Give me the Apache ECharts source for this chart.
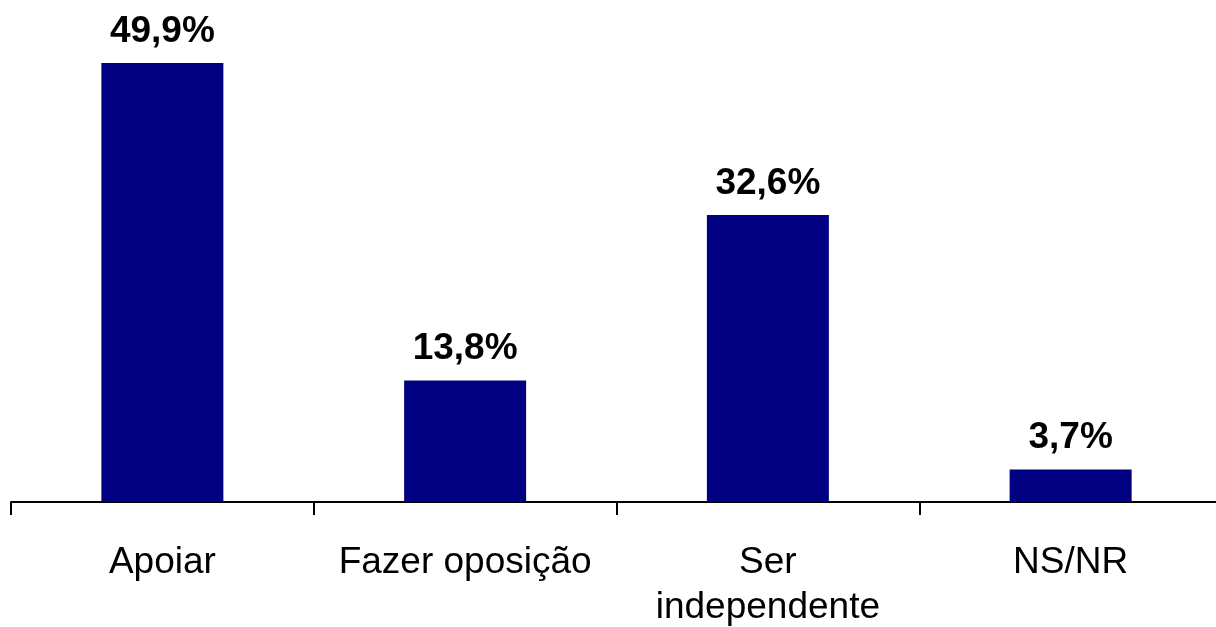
<!DOCTYPE html>
<html>
<head>
<meta charset="utf-8">
<script src="https://cdn.jsdelivr.net/npm/echarts@6/dist/echarts.min.js"></script>
<style>
html, body { margin: 0; padding: 0; background: #fff; }
#chart { width: 1216px; height: 627px; }
</style>
</head>
<body>
<div id="chart"></div>
<script>
var categories = ['Apoiar', 'Fazer oposição', 'Ser\nindependente', 'NS/NR'];
var values = [49.9, 13.8, 32.6, 3.7];

var chart = echarts.init(document.getElementById('chart'));
chart.setOption({
	animation: false,
	grid: {
		left: 11,
		width: 1211,
		top: 62,
		bottom: 125,
		outerBoundsMode: 'none'
	},
	xAxis: {
		type: 'category',
		data: categories,
		axisLine: { lineStyle: { color: '#000', width: 2 } },
		axisTick: { show: true, length: 13, lineStyle: { color: '#000', width: 2 } },
		axisLabel: {
			color: '#000',
			fontFamily: 'Liberation Sans, Arial, sans-serif',
			fontSize: 37,
			lineHeight: 45,
			margin: 38,
			interval: 0
		}
	},
	yAxis: {
		type: 'value',
		min: 0,
		max: 50,
		show: false,
		splitLine: { show: false }
	},
	series: [{
		type: 'bar',
		data: values,
		barWidth: 122,
		itemStyle: { color: '#000080' },
		label: {
			show: true,
			position: 'top',
			distance: 13,
			color: '#000',
			fontFamily: 'Liberation Sans, Arial, sans-serif',
			fontWeight: 'bold',
			fontSize: 37,
			formatter: function(p) {
				return p.value.toFixed(1).replace('.', ',') + '%';
			}
		}
	}]
});
</script>
</body>
</html>
